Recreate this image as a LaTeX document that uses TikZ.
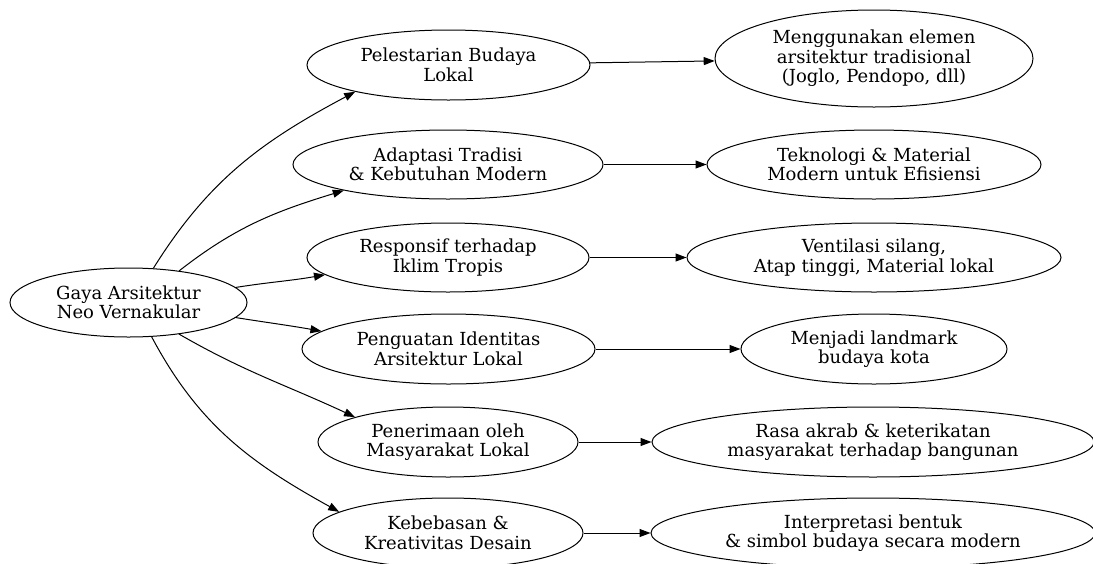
\documentclass[tikz,border=0pt]{standalone}
\usepackage{fontspec}
\setmainfont{DejaVu Serif}
\usepackage{tikz}
\usetikzlibrary{arrows.meta,shapes.geometric}

\begin{document}
\begin{tikzpicture}[x=1pt, y=1pt,
  idea/.style={draw, ellipse, inner sep=0pt, minimum height=69pt, align=center, font=\fontsize{18}{19.5}\selectfont, line width=1pt},
  link/.style={-{Triangle[length=11pt, width=8pt]}, line width=1pt}
]
  \useasboundingbox (0,0) rectangle (1093,-563);

  \node[idea, minimum width=237pt] (gaya) at (128.5,-302.5) {Gaya Arsitektur\\Neo Vernakular};

  \node[idea, minimum width=283pt, minimum height=70pt] (lestari) at (448.5,-65) {Pelestarian Budaya\\Lokal};
  \node[idea, minimum width=310pt] (adaptasi) at (448,-164.5) {Adaptasi Tradisi\\\& Kebutuhan Modern};
  \node[idea, minimum width=282pt] (iklim) at (448,-257.5) {Responsif terhadap\\Iklim Tropis};
  \node[idea, minimum width=293pt, minimum height=70pt] (identitas) at (448.5,-349) {Penguatan Identitas\\Arsitektur Lokal};
  \node[idea, minimum width=260pt, minimum height=70pt] (terima) at (448,-442) {Penerimaan oleh\\Masyarakat Lokal};
  \node[idea, minimum width=270pt, minimum height=70pt] (bebas) at (448,-533) {Kebebasan \&\\Kreativitas Desain};

  \node[idea, minimum width=318pt, minimum height=97pt] (elemen) at (874,-58.5) {Menggunakan elemen\\arsitektur tradisional\\(Joglo, Pendopo, dll)};
  \node[idea, minimum width=334pt] (teknologi) at (874,-164.5) {Teknologi \& Material\\Modern untuk Efisiensi};
  \node[idea, minimum width=374pt] (ventilasi) at (874,-257.5) {Ventilasi silang,\\Atap tinggi, Material lokal};
  \node[idea, minimum width=266pt, minimum height=70pt] (landmark) at (874,-349) {Menjadi landmark\\budaya kota};
  \node[idea, minimum width=442pt, minimum height=70pt] (akrab) at (873,-442) {Rasa akrab \& keterikatan\\masyarakat terhadap bangunan};
  \node[idea, minimum width=444pt, minimum height=70pt] (simbol) at (873,-533) {Interpretasi bentuk\\\& simbol budaya secara modern};

  \draw[link] (gaya.54) to[out=58, in=208] (lestari.196);
  \draw[link] (gaya.32) to[out=38, in=197] (adaptasi.194);
  \draw[link] (gaya.8) to[out=9, in=190] (iklim.188);
  \draw[link] (gaya.-8) to[out=-9, in=170] (identitas.172);
  \draw[link] (gaya.-32) to[out=-30, in=155] (terima.165);
  \draw[link] (gaya.-56) to[out=-62, in=151] (bebas.169);

  \draw[link] (lestari) -- (elemen);
  \draw[link] (adaptasi) -- (teknologi);
  \draw[link] (iklim) -- (ventilasi);
  \draw[link] (identitas) -- (landmark);
  \draw[link] (terima) -- (akrab);
  \draw[link] (bebas) -- (simbol);
\end{tikzpicture}
\end{document}
